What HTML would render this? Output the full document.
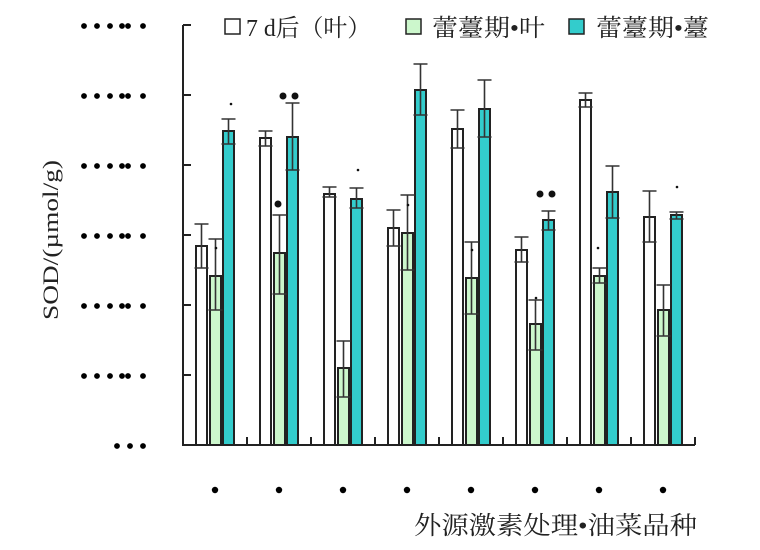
<!DOCTYPE html>
<html><head><meta charset="utf-8"><style>
html,body{margin:0;padding:0;background:#fff;width:760px;height:550px;overflow:hidden}
text{font-family:"Liberation Serif","Noto Serif CJK SC",serif;fill:#222}
</style></head><body>
<svg width="760" height="550" viewBox="0 0 760 550" xmlns="http://www.w3.org/2000/svg">
<defs>
<g id="d6" fill="#000"><circle cx="0" cy="0" r="2.9"/><circle cx="13" cy="0" r="2.9"/><circle cx="26" cy="0" r="2.9"/><circle cx="38" cy="0" r="2.9"/><circle cx="44" cy="0" r="2.9"/><circle cx="59" cy="0" r="2.9"/></g>
</defs>
<g stroke="#222" stroke-width="2" fill="none">
<path d="M183 25 V445 H695"/>
<path d="M183 25h8M183 95h8M183 165h8M183 235h8M183 305h8M183 375h8"/>
<path d="M247 445v-8M311 445v-8M375 445v-8M439 445v-8M503 445v-8M567 445v-8M631 445v-8M695 445v-8"/>
</g>
<g stroke="#222" stroke-width="2">
<g fill="#fff">
<rect x="196" y="246" width="11" height="199"/>
<rect x="260" y="138" width="11" height="307"/>
<rect x="324" y="194" width="11" height="251"/>
<rect x="388" y="228" width="11" height="217"/>
<rect x="452" y="129" width="11" height="316"/>
<rect x="516" y="250" width="11" height="195"/>
<rect x="580" y="100" width="11" height="345"/>
<rect x="644" y="217" width="11" height="228"/>
</g>
<g fill="#ccf7cc">
<rect x="210" y="276" width="11" height="169"/>
<rect x="274" y="253" width="11" height="192"/>
<rect x="338" y="368" width="11" height="77"/>
<rect x="402" y="233" width="11" height="212"/>
<rect x="466" y="278" width="11" height="167"/>
<rect x="530" y="324" width="11" height="121"/>
<rect x="594" y="276" width="11" height="169"/>
<rect x="658" y="310" width="11" height="135"/>
</g>
<g fill="#33cccc">
<rect x="223" y="131" width="11" height="314"/>
<rect x="287" y="137" width="11" height="308"/>
<rect x="351" y="199" width="11" height="246"/>
<rect x="415" y="90" width="11" height="355"/>
<rect x="479" y="109" width="11" height="336"/>
<rect x="543" y="220" width="11" height="225"/>
<rect x="607" y="192" width="11" height="253"/>
<rect x="671" y="215" width="11" height="230"/>
</g>
</g>
<g stroke="#333" stroke-width="1.6" fill="none">
<path d="M194.5 224h14M201.5 224V268M194.5 268h14"/>
<path d="M258.5 131h14M265.5 131V146M258.5 146h14"/>
<path d="M322.5 187h14M329.5 187V197M322.5 197h14"/>
<path d="M386.5 210h14M393.5 210V246M386.5 246h14"/>
<path d="M450.5 110h14M457.5 110V148M450.5 148h14"/>
<path d="M514.5 237h14M521.5 237V262M514.5 262h14"/>
<path d="M578.5 93h14M585.5 93V107M578.5 107h14"/>
<path d="M642.5 191h14M649.5 191V242M642.5 242h14"/>
<path d="M208.5 239h14M215.5 239V310M208.5 310h14"/>
<path d="M272.5 215h14M279.5 215V294M272.5 294h14"/>
<path d="M336.5 341h14M343.5 341V397M336.5 397h14"/>
<path d="M400.5 195h14M407.5 195V270M400.5 270h14"/>
<path d="M464.5 242h14M471.5 242V314M464.5 314h14"/>
<path d="M528.5 300h14M535.5 300V350M528.5 350h14"/>
<path d="M592.5 268h14M599.5 268V283M592.5 283h14"/>
<path d="M656.5 285h14M663.5 285V336M656.5 336h14"/>
<path d="M221.5 119h14M228.5 119V144M221.5 144h14"/>
<path d="M285.5 103h14M292.5 103V170M285.5 170h14"/>
<path d="M349.5 188h14M356.5 188V208M349.5 208h14"/>
<path d="M413.5 64h14M420.5 64V115M413.5 115h14"/>
<path d="M477.5 80h14M484.5 80V137M477.5 137h14"/>
<path d="M541.5 211h14M548.5 211V230M541.5 230h14"/>
<path d="M605.5 166h14M612.5 166V218M605.5 218h14"/>
<path d="M669.5 212h14M676.5 212V219M669.5 219h14"/>
</g>
<g fill="#111">
<circle cx="283" cy="96" r="3.5"/><circle cx="295" cy="96" r="3.5"/>
<circle cx="278" cy="204" r="3.5"/>
<circle cx="540" cy="194" r="3.5"/><circle cx="552" cy="194" r="3.5"/>
<circle cx="231" cy="104" r="1.3"/><circle cx="216" cy="248" r="1.3"/>
<circle cx="358" cy="170" r="1.3"/><circle cx="408" cy="205" r="1.3"/>
<circle cx="472" cy="250" r="1.3"/><circle cx="536" cy="298" r="1.3"/>
<circle cx="598" cy="248" r="1.3"/><circle cx="677" cy="187" r="1.3"/>
</g>
<use href="#d6" x="84" y="26"/>
<use href="#d6" x="84" y="96"/>
<use href="#d6" x="84" y="166"/>
<use href="#d6" x="84" y="236"/>
<use href="#d6" x="84" y="306"/>
<use href="#d6" x="84" y="376"/>
<g fill="#000">
<circle cx="117" cy="446" r="2.9"/><circle cx="130" cy="446" r="2.9"/><circle cx="143" cy="446" r="2.9"/>
<circle cx="215" cy="490" r="3.2"/><circle cx="279" cy="490" r="3.2"/><circle cx="343" cy="490" r="3.2"/><circle cx="407" cy="490" r="3.2"/>
<circle cx="471" cy="490" r="3.2"/><circle cx="535" cy="490" r="3.2"/><circle cx="599" cy="490" r="3.2"/><circle cx="663" cy="490" r="3.2"/>
</g>
<text x="414" y="534" font-size="25" textLength="283" lengthAdjust="spacingAndGlyphs">外源激素处理•油菜品种</text>
<text transform="translate(58,240) rotate(-90)" text-anchor="middle" font-size="22" textLength="160" lengthAdjust="spacingAndGlyphs">SOD/(µmol/g)</text>
<g stroke="#222" stroke-width="1.5">
<rect x="225" y="19" width="15" height="15" fill="#fff"/>
<rect x="406" y="19" width="15" height="15" fill="#ccf7cc"/>
<rect x="569" y="19" width="15" height="15" fill="#33cccc"/>
</g>
<g font-size="24">
<text x="246" y="36" textLength="125" lengthAdjust="spacingAndGlyphs">7 d后（叶）</text>
<text x="432" y="36" textLength="113" lengthAdjust="spacingAndGlyphs">蕾薹期•叶</text>
<text x="596" y="36" textLength="113" lengthAdjust="spacingAndGlyphs">蕾薹期•薹</text>
</g>
</svg>
</body></html>
